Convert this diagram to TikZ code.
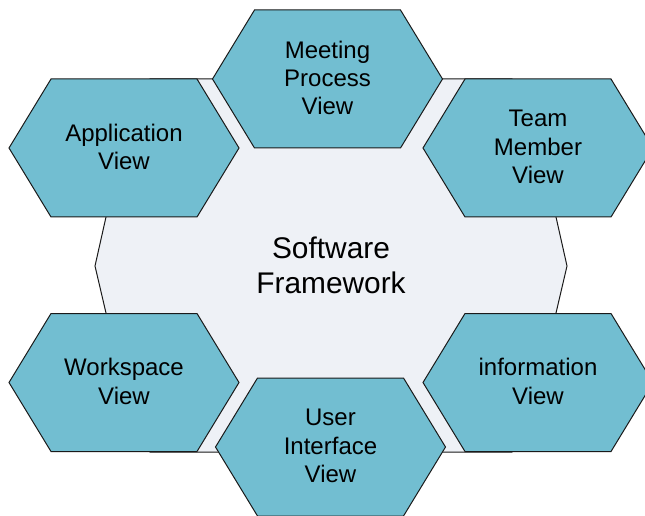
\documentclass[tikz,border=0pt]{standalone}
\usepackage{fontspec}
\setmainfont{Liberation Sans}
\definecolor{hexfill}{HTML}{72BED1}
\definecolor{corefill}{HTML}{EEF1F6}
\definecolor{edge}{HTML}{1A1A1A}
\tikzset{
  hexshape/.style={draw=edge, fill=hexfill, line width=0.75pt, line join=miter},
  coreshape/.style={draw=edge, fill=corefill, line width=0.75pt},
  hextext/.style={align=center, font=\fontsize{18}{21.2}\selectfont, inner sep=0pt},
  coretext/.style={align=center, font=\fontsize{22.4}{26.3}\selectfont, inner sep=0pt}
}
\newcommand{\hexview}[4]{%
  \begin{scope}[shift={(#2,#3)}]
    \draw[hexshape] (-115,0) -- (-73,-69) -- (73,-69) -- (115,0) -- (73,69) -- (-73,69) -- cycle;
  \end{scope}
  \node[hextext] (#1) at (#2,#3-1) {#4};}
\begin{document}
\begin{tikzpicture}[x=0.75pt, y=-0.75pt]
\useasboundingbox (0,0) rectangle (645,516);
\clip (0,0) rectangle (645,516);
% central framework shape
\draw[coreshape] (150,79) -- (512,79) -- (556,217) -- (567,266) -- (556,313)
  -- (512,452) -- (150,452) -- (106,313) -- (95,266) -- (106,217) -- cycle;
\node[coretext] (core) at (331,265) {Software\\Framework};
% surrounding views
\hexview{meeting}{327.5}{79}{Meeting\\Process\\View}
\hexview{application}{124}{148}{Application\\View}
\hexview{team}{538}{148}{Team\\Member\\View}
\hexview{workspace}{124}{382.5}{Workspace\\View}
\hexview{information}{538}{382.5}{information\\View}
\hexview{ui}{330.5}{447}{User\\Interface\\View}
\end{tikzpicture}
\end{document}
